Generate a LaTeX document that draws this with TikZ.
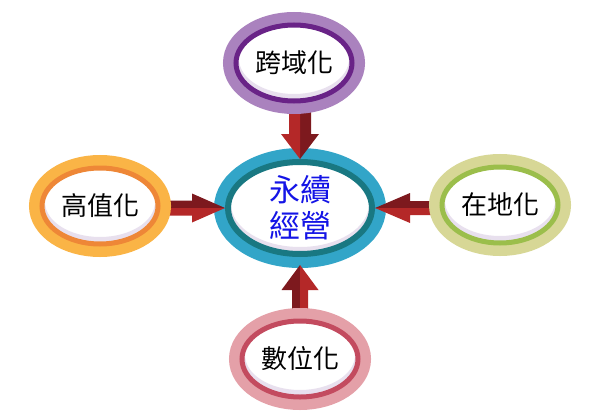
\documentclass[tikz,border=0pt]{standalone}
\usepackage{fontspec}
\newfontfamily\cjk{Noto Sans CJK TC}
\usepackage{tikz}
\usetikzlibrary{shapes.geometric, calc}
\usepackage{xcolor}
\definecolor{hubout}{RGB}{50,165,200}
\definecolor{hubring}{RGB}{25,120,130}
\definecolor{kuaout}{RGB}{170,130,190}
\definecolor{kuaring}{RGB}{105,35,135}
\definecolor{gaoout}{RGB}{250,180,70}
\definecolor{gaoring}{RGB}{238,135,55}
\definecolor{zaiout}{RGB}{215,215,150}
\definecolor{zairing}{RGB}{155,190,75}
\definecolor{shuout}{RGB}{228,160,168}
\definecolor{shuring}{RGB}{195,75,95}
\definecolor{arrowdark}{RGB}{125,25,30}
\definecolor{arrowbright}{RGB}{180,40,40}
\definecolor{hubtext}{RGB}{20,20,230}
\definecolor{innershade}{RGB}{232,224,238}

% two-tone block arrow, tip at the origin, pointing along +x
\tikzset{
  pics/fatarrow/.style args={#1/#2/#3/#4}{code={
    \fill[arrowdark] (0,0) -- (-#4,#3) -- (-#4,#2) -- (-#1,#2) -- (-#1,0) -- cycle;
    \fill[arrowbright] (0,0) -- (-#4,-#3) -- (-#4,-#2) -- (-#1,-#2) -- (-#1,0) -- cycle;
  }}
}

\begin{document}
\begin{tikzpicture}[x=1pt, y=1pt,
    satnode/.style 2 args={ellipse, draw=#2, line width=5pt, fill=white,
      preaction={draw=#1, line width=26pt},
      minimum width=116pt, minimum height=76pt, inner sep=0pt,
      font=\cjk\fontsize{26}{30}\selectfont,
      path picture={\fill[innershade, even odd rule]
        (path picture bounding box.center) ellipse (58pt and 38pt)
        ([yshift=4pt]path picture bounding box.center) ellipse (55pt and 35pt);}},
    hubnode/.style={ellipse, draw=hubring, line width=6pt, fill=white,
      preaction={draw=hubout, line width=28pt},
      minimum width=144pt, minimum height=92pt, inner sep=0pt, align=center,
      text=hubtext, font=\cjk\fontsize{31}{36}\selectfont,
      path picture={\fill[innershade, even odd rule]
        (path picture bounding box.center) ellipse (72pt and 46pt)
        ([yshift=4pt]path picture bounding box.center) ellipse (69pt and 43pt);}}
]
\useasboundingbox (0,0) rectangle (599,416);

\node[hubnode] (hub) at (300,208) {永續\\經營};

\pic[rotate=-90] at (hub.north) {fatarrow=56/11/19/25};
\pic at (hub.west) {fatarrow=63/7.5/14.5/33};
\pic[xscale=-1] at (hub.east) {fatarrow=61/7/15/35};
\pic[rotate=90] at ([yshift=-8pt]hub.south) {fatarrow=53/8/18.5/25};

\node[satnode={kuaout}{kuaring}] (kua) at (294,353) {跨域化};
\node[satnode={gaoout}{gaoring}] (gao) at (100,210) {高值化};
\node[satnode={zaiout}{zairing}] (zai) at (500,211) {在地化};
\node[satnode={shuout}{shuring}] (shu) at (300,57) {數位化};
\end{tikzpicture}
\end{document}
